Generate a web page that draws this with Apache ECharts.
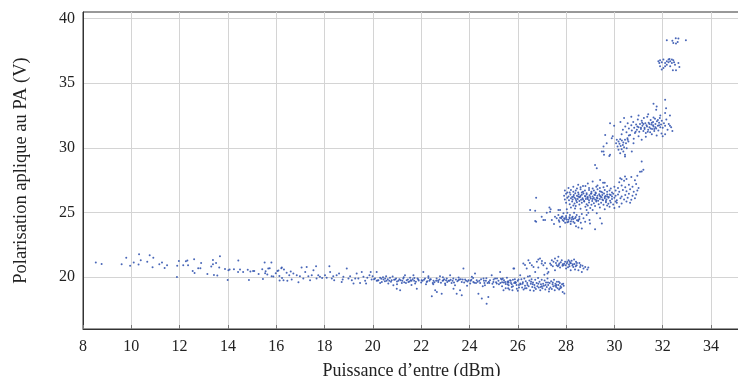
<!DOCTYPE html>
<html><head><meta charset="utf-8">
<script src="https://cdn.jsdelivr.net/npm/echarts@6/dist/echarts.min.js"></script>
<style>html,body{margin:0;padding:0;background:#fff}#c{width:738px;height:376px}</style>
</head><body><div id="c"></div>
<script>
const xTickLabels = [8,10,12,14,16,18,20,22,24,26,28,30,32,34];
const yTickLabels = [20,25,30,35,40];
const xTitle = 'Puissance d’entre (dBm)';
const yTitle = 'Polarisation aplique au PA (V)';

const sparseLow = [[8.53,21.14],[8.77,21.03],[9.6,21.0],[9.79,21.5],[9.95,20.88],[10.1,21.14],[10.32,21.78],[10.39,21.32],[10.3,20.98],[10.66,21.19],[10.76,21.7],[10.91,21.5],[10.88,20.78],[11.16,21.0],[11.27,21.14],[11.38,20.72],[11.48,20.93],[11.9,20.88],[11.89,20.02],[11.97,21.26],[12.15,20.93],[12.26,21.24],[12.32,21.29],[12.35,20.93],[12.6,21.4],[12.54,20.49],[12.62,20.33],[12.77,20.7],[12.86,20.7],[12.89,21.11],[13.15,20.26],[13.31,20.83],[13.38,21.34],[13.38,21.0],[13.42,20.18],[13.51,21.11],[13.56,20.13],[13.64,20.75],[13.67,21.63],[13.88,20.64],[14.02,20.54],[13.99,19.79],[14.07,20.6],[14.25,20.62],[14.43,21.29],[14.42,20.41],[14.5,20.6],[14.63,20.41],[14.82,20.57],[14.87,19.79],[14.93,20.44],[15.04,20.49],[15.09,20.49],[15.27,20.26],[15.42,20.62],[15.45,19.87],[15.52,21.14],[15.54,20.31],[15.56,20.47],[15.63,20.21],[15.67,20.67],[15.73,20.7],[15.8,21.14],[15.81,20.08],[15.88,20.05],[15.98,20.31],[16.05,20.49],[16.09,20.52],[16.13,20.1],[16.14,19.74],[16.21,20.7],[16.24,19.95]];

const bandMid = [[16.23,20.75],[16.32,20.6],[16.43,20.34],[16.54,20.16],[16.71,20.28],[16.85,20.16],[16.98,20.08],[17.05,20.75],[17.26,20.8],[17.33,20.08],[17.47,20.16],[17.54,20.54],[17.65,20.85],[17.67,19.9],[17.81,20.03],[16.3,19.77],[16.46,19.72],[16.64,19.82],[16.92,19.62],[17.12,19.9],[17.4,19.77],[17.74,20.16],[17.9,19.95],[16.6,20.45],[17.2,20.4],
[18.02,20.16],[18.09,19.97],[18.2,20.85],[18.23,20.41],[18.3,19.9],[18.4,19.77],[18.5,20.16],[18.6,20.28],[18.71,19.64],[18.78,20.03],[18.92,20.67],[18.99,19.9],[19.06,20.08],[19.13,19.77],[19.2,19.51],[19.33,20.28],[19.4,19.9],[19.47,19.56],[19.54,20.41],[19.61,20.03],[19.68,19.72],[19.77,19.97],[19.86,20.16],[19.91,20.41],[19.95,19.82],[19.99,20.08],[18.36,20.08],[18.75,19.82],[19.27,19.9],[19.72,19.51],
[20.09,19.9],[20.16,20.41],[20.23,19.77],[20.3,19.97],[20.37,19.64],[20.44,19.82],[20.51,19.9],[20.57,19.72],[20.64,19.51],[20.71,19.97],[20.78,19.77],[20.85,19.38],[20.92,19.82],[20.99,19.12],[21.06,19.72],[21.13,18.99],[21.2,19.56],[21.26,19.9],[21.33,20.16],[21.4,19.77],[21.47,19.64],[21.54,19.97],[21.6,19.72],[21.68,20.16],[21.75,19.51],[21.82,19.12],[21.88,19.82],[20.16,19.72],[20.3,19.56],[20.55,20.08],[20.68,19.72],[20.96,19.9],[21.15,19.77],[21.37,19.56],[21.57,19.77],[21.71,19.72],[21.85,19.9],
[22.02,19.77],[22.09,20.41],[22.16,19.9],[22.23,19.64],[22.3,20.08],[22.37,19.82],[22.44,18.53],[22.51,19.72],[22.58,18.99],[22.64,19.9],[22.71,19.64],[22.78,20.08],[22.85,18.73],[22.92,19.77],[22.99,19.51],[23.06,19.9],[23.13,19.72],[23.2,20.16],[23.26,19.56],[23.33,19.9],[23.4,19.38],[23.47,18.73],[23.54,19.77],[23.61,18.99],[23.68,19.64],[23.75,20.67],[23.82,19.82],[22.06,19.72],[22.2,19.46],[22.34,19.72],[22.48,19.56],[22.62,19.72],[22.76,19.82],[22.89,19.72],[23.03,19.77],[23.17,19.72],[23.3,19.72],[23.44,19.82],[23.58,19.82],[23.72,19.82],[23.86,19.72],[22.65,18.86],[23.34,19.12],[23.68,18.61],
[23.96,19.77],[24.03,19.51],[24.1,20.03],[24.16,19.64],[24.23,20.28],[24.3,19.77],[24.37,18.73],[24.44,19.56],[24.51,18.35],[24.58,19.9],[24.64,19.38],[24.71,17.96],[24.78,18.48],[24.85,19.77],[24.92,20.16],[24.99,19.64],[25.06,19.9],[25.13,19.51],[25.2,19.72],[25.27,20.41],[25.34,19.82],[25.41,18.99],[25.48,19.64],[25.55,19.97],[25.62,19.38],[25.68,19.77],[25.75,19.25],[25.82,20.67],[25.89,19.64],[25.96,19.12],[26.03,19.82],[26.1,19.51],[24.05,19.72],[24.27,19.56],[24.41,19.72],[24.6,19.72],[24.82,19.56],[25.0,19.82],[25.14,19.9],[25.28,19.56],[25.43,19.77],[25.57,19.64],[25.71,19.72],[25.85,19.56],[26.0,19.72],[24.68,19.72],[24.75,19.56],
[20.05,19.85],[20.2,19.75],[20.35,19.88],[20.5,19.7],[20.62,19.85],[20.75,19.65],[20.88,19.8],[21.0,19.68],[21.1,19.85],[21.22,19.72],[21.3,19.62],[21.45,19.82],[21.52,19.68],[21.65,19.85],[21.78,19.66],[21.9,19.74],[22.0,19.6],[22.12,19.8],[22.25,19.7],[22.4,19.85],[22.55,19.62],[22.7,19.75],[22.82,19.58],[22.95,19.84],[23.08,19.64],[23.22,19.8],[23.36,19.6],[23.5,19.7],[23.64,19.84],[23.78,19.6],[23.92,19.68],[24.08,19.8],[24.2,19.58],[24.34,19.66],[24.48,19.84],[24.62,19.55],[24.8,19.66],[24.95,19.5],[25.1,19.62],[25.22,19.45],[25.35,19.62],[25.5,19.48],[25.62,19.6],[25.75,19.45],[25.9,19.55],[26.05,19.4],[20.42,20.0],[20.82,20.05],[21.28,20.0],[21.72,19.95],[22.3,19.95],[22.9,20.0],[23.55,19.98],[24.15,19.95],[24.7,19.92],[25.3,19.88],[25.8,19.8],[22.5,19.45],[23.0,19.4],[23.9,19.35],[24.55,19.3],[25.0,19.25],[25.6,19.15],[21.0,19.45],[21.6,19.4]];

const bandHigh = [[26.12,19.45],[26.15,19.85],[26.18,19.2],[26.21,19.62],[26.24,19.05],[26.27,19.9],[26.3,19.35],[26.33,19.7],[26.36,19.15],[26.39,19.55],[26.42,20.05],[26.45,19.3],[26.48,19.75],[26.51,19.0],[26.54,19.5],[26.57,19.85],[26.6,19.25],[26.63,19.6],[26.66,18.95],[26.69,19.4],[26.72,19.8],[26.75,19.1],[26.78,19.55],[26.81,19.3],[26.84,19.95],[26.87,19.2],[26.9,19.65],[26.93,19.0],[26.96,19.45],[26.99,19.8],[27.02,19.15],[27.05,19.5],[27.08,19.35],[27.11,19.75],[27.14,19.05],[27.17,19.6],[27.2,19.25],[27.23,19.9],[27.26,19.4],[27.29,18.9],[27.32,19.55],[27.35,19.2],[27.38,19.7],[27.41,19.1],[27.44,19.45],[27.47,19.3],[27.5,19.8],[27.53,19.0],[27.56,19.5],[27.59,19.25],[27.62,19.65],[27.65,19.15],[27.68,19.4],[27.71,19.05],[27.74,19.55],[27.77,19.3],[27.8,19.2],[27.83,19.45],[27.86,18.85],[27.9,19.35],[27.93,18.75],
[25.35,19.3],[25.42,19.6],[25.5,19.15],[25.58,19.45],[25.65,19.05],[25.72,19.55],[25.8,19.3],[25.88,19.85],[25.95,19.4],[26.05,19.2],[25.38,19.9],[25.6,19.7],[25.78,19.0],[25.92,19.6],[26.0,18.95],
[26.2,19.5],[26.4,19.4],[26.55,19.65],[26.7,19.2],[26.85,19.5],[27.0,19.3],[27.15,19.4],[27.3,19.1],[27.45,19.6],[27.6,19.4],[27.75,19.15],[27.88,19.5],[26.3,19.15],[26.62,19.45],[26.95,19.25],[27.25,19.6],[27.55,19.35],[27.7,19.65],[26.1,20.15],[26.5,20.1],[27.1,20.2]];

const cluster21 = [[26.23,21.06],[26.37,20.67],[26.44,21.32],[26.58,20.93],[26.65,20.8],[26.72,20.41],[26.79,21.19],[26.85,21.37],[26.92,21.45],[26.99,21.06],[27.06,20.93],[27.13,21.11],[27.2,20.67],[27.23,20.28],[27.34,21.06],[27.41,21.32],[27.45,20.85],[27.48,21.19],[27.54,21.45],[27.61,20.93],[27.64,21.27],[27.68,21.58],[27.72,21.06],[27.75,20.75],[27.82,21.32],[27.86,21.01],[27.89,20.93],[27.96,21.19],[28.0,20.67],[28.03,21.06],[28.1,21.32],[28.14,20.85],[28.17,21.11],[28.19,20.54],[28.23,21.27],[28.28,21.01],[28.3,20.8],[28.33,21.37],[28.37,20.6],[28.41,21.19],[28.44,20.93],[28.51,20.54],[28.55,21.11],[28.58,20.8],[28.65,20.41],[28.72,20.67],[28.79,20.8],[28.88,20.6],[28.92,20.75],[27.54,20.54],[27.27,20.41],
[27.7,20.95],[27.78,21.15],[27.85,20.88],[27.92,21.05],[27.98,20.92],[28.05,21.18],[28.12,20.98],[28.2,21.08],[28.26,20.9],[28.35,21.02],[28.4,20.85],[27.58,21.1],[27.66,20.85],[28.08,20.78],[28.15,21.22],[28.45,21.1],[28.6,20.95],[28.68,20.88],[26.3,20.95],[26.5,21.1],[26.85,20.75],[27.0,21.25],[27.38,20.95],[25.85,20.67]];

const cluster24 = [[26.76,26.15],[26.51,25.2],[26.72,25.14],[26.76,24.29],[26.99,24.68],[27.06,24.42],[27.2,24.99],[27.31,25.4],[27.36,25.25],[27.41,24.42],[27.5,24.11],[27.54,24.68],[27.61,24.55],[27.68,24.81],[27.72,24.29],[27.75,23.9],[27.82,24.68],[27.86,24.42],[27.89,24.94],[27.92,24.55],[27.96,24.21],[28.0,24.73],[28.03,24.47],[28.05,24.99],[28.1,24.29],[28.14,24.63],[28.16,24.81],[28.19,24.11],[28.23,24.47],[28.27,24.68],[28.3,24.29],[28.33,24.99],[28.37,24.55],[28.41,23.95],[28.44,24.81],[28.51,24.42],[28.55,24.68],[28.61,24.21],[28.65,24.88],[28.72,24.55],[28.79,24.29],[28.85,24.81],[28.97,24.42],[28.99,24.16],[29.2,23.7],[29.41,24.55],[29.48,24.16],[28.65,23.77],[28.51,23.85],[27.68,25.2],[27.34,25.07],[27.13,24.42],[27.75,25.2],[28.03,25.25],[28.37,25.32],[28.85,25.2],[28.92,24.99],[29.27,24.94],[26.72,24.34],
[27.7,24.4],[27.8,24.55],[27.9,24.35],[28.0,24.6],[28.1,24.45],[28.2,24.3],[28.3,24.5],[28.4,24.65],[28.5,24.35],[27.85,24.7],[28.05,24.25],[28.25,24.6],[28.45,24.4],[27.95,24.5],[28.15,24.55],[28.35,24.2],[27.75,24.6],[28.55,24.5]];

const cluster26 = [[28.5,27.15],[28.9,27.25],[29.3,27.1],[29.6,27.3],[29.1,27.4],[28.7,27.05],[30.2,27.35],[30.5,27.6],[30.7,27.75],[30.85,27.5],[30.95,27.85],[30.4,27.45],
[28.1,26.9],[28.3,27.0],[28.45,26.85],[28.6,26.95],[28.8,27.05],[28.95,26.9],[29.1,26.85],[29.25,27.0],[29.4,26.9],[29.55,26.95],[29.7,27.05],[29.85,26.85],[30.0,27.0],[30.15,26.9],[30.3,27.1],[30.45,26.95],[30.6,27.15],[30.75,27.0],[30.9,27.2],[31.0,26.9],
[27.95,26.7],[28.05,26.55],[28.2,26.75],[28.3,26.6],[28.4,26.7],[28.5,26.55],[28.6,26.8],[28.7,26.6],[28.78,26.7],[28.85,26.5],[28.95,26.75],[29.05,26.6],[29.15,26.7],[29.22,26.55],[29.3,26.8],[29.4,26.65],[29.5,26.55],[29.6,26.75],[29.7,26.6],[29.8,26.7],[29.9,26.55],[30.05,26.7],[30.2,26.6],[30.35,26.75],[30.5,26.65],[30.65,26.8],[30.8,26.6],[30.95,26.7],
[27.92,26.3],[28.0,26.45],[28.1,26.25],[28.18,26.4],[28.25,26.2],[28.32,26.35],[28.38,26.5],[28.45,26.3],[28.52,26.42],[28.58,26.22],[28.65,26.38],[28.72,26.48],[28.78,26.28],[28.85,26.4],[28.9,26.2],[28.97,26.33],[29.03,26.45],[29.1,26.25],[29.17,26.38],[29.23,26.5],[29.3,26.3],[29.37,26.42],[29.43,26.22],[29.5,26.35],[29.57,26.48],[29.63,26.28],[29.7,26.4],[29.77,26.2],[29.85,26.35],[29.95,26.45],[30.05,26.3],[30.15,26.4],[30.3,26.25],[30.45,26.35],[30.6,26.45],[30.75,26.3],[30.9,26.4],
[27.95,26.0],[28.05,26.15],[28.12,25.95],[28.2,26.1],[28.27,26.0],[28.35,26.15],[28.42,25.92],[28.48,26.05],[28.55,26.18],[28.62,25.98],[28.68,26.1],[28.75,25.9],[28.82,26.05],[28.88,26.15],[28.95,25.95],[29.02,26.08],[29.08,25.9],[29.15,26.12],[29.2,26.0],[29.27,26.15],[29.33,25.92],[29.4,26.05],[29.47,26.18],[29.53,25.95],[29.6,26.1],[29.67,26.0],[29.75,26.15],[29.82,25.92],[29.9,26.05],[30.0,26.15],[30.1,25.95],[30.25,26.1],[30.4,26.0],[30.55,26.15],[30.7,25.98],[30.85,26.1],
[28.0,25.75],[28.15,25.65],[28.25,25.85],[28.35,25.7],[28.45,25.8],[28.55,25.62],[28.65,25.75],[28.75,25.85],[28.85,25.65],[28.95,25.78],[29.05,25.6],[29.15,25.72],[29.25,25.85],[29.35,25.65],[29.45,25.75],[29.55,25.6],[29.65,25.8],[29.75,25.68],[29.85,25.78],[29.95,25.62],[30.1,25.75],[30.3,25.7],[30.5,25.85],[30.65,25.75],
[28.2,25.4],[28.4,25.5],[28.6,25.3],[28.8,25.45],[29.0,25.35],[29.2,25.5],[29.4,25.4],[29.6,25.25],[29.8,25.45],[30.0,25.35],[28.3,25.55],[29.1,25.2],[29.7,25.55],[30.2,25.45],[28.9,25.55],
[28.6,26.3],[28.8,26.25],[29.0,26.2],[29.2,26.35],[29.4,26.3],[29.6,26.2],[28.7,26.0],[28.9,26.05],[29.1,26.05],[29.3,26.1],[29.5,26.0],[28.5,26.25],[28.4,26.05],[29.7,26.25],[29.8,26.4],[28.65,26.55],[29.05,26.5],[29.45,26.6],[28.55,25.9],[29.25,25.95],[29.65,25.9],[30.05,25.85],[28.3,26.25],[28.15,26.55],[29.9,26.25]];

const spray = [[29.2,28.68],[29.27,28.42],[29.55,29.71],[29.82,29.46],[30.44,29.33],[31.13,28.94],[31.2,28.3],[31.06,28.16],[30.44,27.78],[29.41,27.52],[29.53,27.31],[29.82,31.9],[29.99,31.7],[29.62,31.0],[29.68,30.36],[29.55,30.1],[29.48,29.72],[29.57,29.46],[29.79,29.38],[30.24,27.65],[30.3,27.57],[29.93,30.9],[29.89,30.75],[31.13,28.17]];

const cluster30 = [[30.1,30.62],[30.17,30.49],[30.24,30.67],[30.31,30.57],[30.37,30.41],[30.44,30.62],[30.21,30.31],[30.26,30.15],[30.35,30.23],[30.4,30.05],[30.48,30.36],[30.13,30.1],[30.3,29.9],[30.37,29.72],[30.44,29.46],[30.51,29.97],[30.17,29.85],[30.07,30.36],[30.58,30.49],[30.54,30.75],[30.24,29.59],[30.79,30.36],[30.72,29.72]];

const cluster31 = [[30.35,31.4],[30.45,31.65],[30.5,31.2],[30.55,31.9],[30.6,31.5],[30.65,31.0],[30.7,31.75],[30.72,31.35],[30.78,32.0],[30.82,31.55],[30.85,31.15],[30.9,31.8],[30.93,31.4],[30.97,32.2],[31.0,31.6],[31.03,31.25],[31.06,31.85],[31.1,31.45],[31.13,32.1],[31.16,31.7],[31.2,31.3],[31.22,32.3],[31.25,31.55],[31.28,31.9],[31.3,31.15],[31.33,31.75],[31.36,32.4],[31.4,31.4],[31.42,31.95],[31.45,31.6],[31.48,31.2],[31.5,32.15],[31.53,31.8],[31.56,31.45],[31.6,32.0],[31.62,31.65],[31.65,31.3],[31.68,32.25],[31.7,31.85],[31.73,31.5],[31.76,32.05],[31.8,31.7],[31.82,31.35],[31.85,31.95],[31.88,32.3],[31.9,31.6],[31.93,31.8],[31.96,32.1],[32.0,31.55],[32.05,31.9],[32.1,31.7],[32.15,32.2],[32.2,31.4],[32.25,31.85],[32.3,32.5],[32.35,31.6],[30.6,30.95],[30.8,30.7],[31.0,30.9],[31.3,30.85],[31.55,31.05],[31.75,30.95],[31.95,31.1],[32.1,31.05],[30.4,32.3],[30.7,32.4],[31.0,32.5],[31.4,32.6],[31.9,32.5],[31.1,31.55],[31.2,31.85],[31.35,31.65],[31.5,31.5],[31.6,31.75],[31.45,31.85],[31.7,31.6],[31.8,32.15],[31.25,31.45],[31.15,31.95],[30.95,31.65],[31.55,31.95],[31.65,31.45],[31.85,31.75],[30.88,31.25],[31.38,31.25],[31.62,32.35],[31.62,33.41],[31.75,33.2],[32.1,33.72],[32.14,33.07],[32.1,32.69],[32.3,31.7],[31.73,32.95],[30.25,32.0],[30.3,31.05],[32.4,31.3],[31.13,30.62],[30.55,30.62],[32.0,30.9]];

const cluster36 = [[31.82,36.69],[31.89,36.77],[31.96,36.61],[32.03,36.82],[32.1,36.56],[32.17,36.69],[32.24,36.82],[32.31,36.69],[32.38,36.56],[32.44,36.77],[32.51,36.43],[32.65,36.56],[31.89,36.3],[32.03,36.17],[31.96,36.05],[32.42,35.99],[32.55,35.99],[32.69,36.25],[32.17,36.43],[32.31,36.3],[31.86,36.56],[32.24,36.61],[32.38,36.82],[32.1,36.3],[32.28,36.87],[32.47,36.61]];

const cluster38 = [[32.17,38.32],[32.4,38.27],[32.44,38.11],[32.54,38.47],[32.65,38.45],[32.55,38.06],[32.62,38.19],[32.96,38.32]];

const allPoints = [].concat(sparseLow, bandMid, bandHigh, cluster21, cluster24, cluster26, spray, cluster30, cluster31, cluster36, cluster38);

const serif = '"Liberation Serif", "DejaVu Serif", serif';
const gridColor = '#d4d4d4';
const chart = echarts.init(document.getElementById('c'), null, {renderer: 'canvas'});
chart.setOption({
  animation: false,
  backgroundColor: '#fff',
  grid: {left: 83, right: -2, top: 12, bottom: 47, show: true, borderColor: '#333', borderWidth: 1, backgroundColor: 'transparent', containLabel: false, outerBoundsMode: 'none'},
  xAxis: {
    type: 'value', min: 8, max: 35.2, interval: 2,
    axisLine: {show: true, lineStyle: {color: '#333', width: 1}},
    axisTick: {show: true, inside: true, length: 4, lineStyle: {color: '#777'}},
    splitLine: {show: true, lineStyle: {color: gridColor, width: 1}},
    axisLabel: {showMaxLabel: false, color: '#222', fontFamily: serif, fontSize: 16, margin: 10,
      formatter: v => xTickLabels.indexOf(v) >= 0 ? String(v) : ''},
    name: xTitle, nameLocation: 'middle', nameGap: 33,
    nameTextStyle: {color: '#222', fontFamily: serif, fontSize: 18}
  },
  yAxis: {
    type: 'value', min: 16, max: 40.5, interval: 1,
    axisLine: {show: true, lineStyle: {color: '#333', width: 1}},
    axisTick: {show: false},
    splitLine: {show: true, lineStyle: {color: ['rgba(0,0,0,0)','rgba(0,0,0,0)','rgba(0,0,0,0)','rgba(0,0,0,0)', gridColor], width: 1}},
    axisLabel: {color: '#222', fontFamily: serif, fontSize: 16, margin: 8,
      formatter: v => yTickLabels.indexOf(v) >= 0 ? String(v) : ''},
    name: yTitle, nameLocation: 'middle', nameGap: 52,
    nameTextStyle: {color: '#222', fontFamily: serif, fontSize: 18.5}
  },
  series: [{
    type: 'scatter', data: allPoints, symbol: 'circle', symbolSize: 2, silent: true,
    itemStyle: {color: '#3556b0', opacity: 0.9}
  }]
});
</script>
</body></html>
